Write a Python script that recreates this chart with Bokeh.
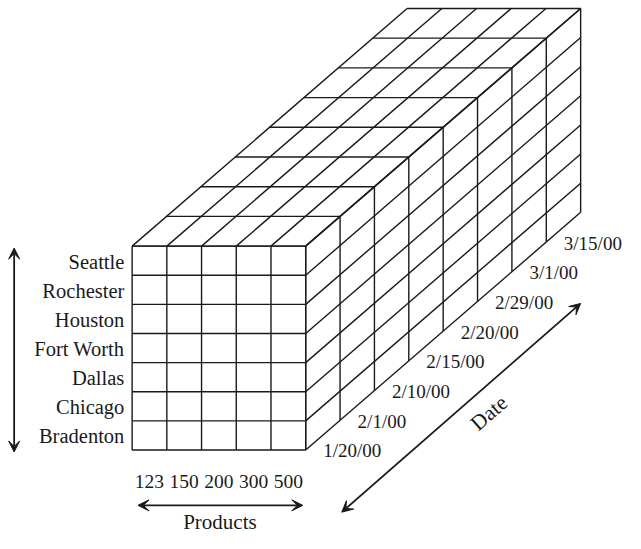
from bokeh.plotting import figure
from bokeh.models import Range1d, Arrow, VeeHead
from bokeh.core.properties import value
from bokeh.embed import file_html
from bokeh.resources import INLINE
import math

# ---- data ----
cities = ["Seattle", "Rochester", "Houston", "Fort Worth", "Dallas", "Chicago", "Bradenton"]  # top to bottom
products = ["123", "150", "200", "300", "500"]
dates = ["1/20/00", "2/1/00", "2/10/00", "2/15/00", "2/20/00", "2/29/00", "3/1/00", "3/15/00"]  # front to back
axis_names = ["Products", "Date"]

# ---- geometry (data units = reference pixels, y up) ----
X0, YB = 135.0, 86.0      # front-bottom-left corner
CW, CH = 35.6, 30.0       # cell width / height on front face
DX, DY = 35.25, 30.6      # oblique depth step
FONT = value("Liberation Serif")
LC = "#1a1a1a"
LW = 1.4

ncol, nrow, ndep = len(products), len(cities), len(dates)
W, H = ncol * CW, nrow * CH
XR, YT = X0 + W, YB + H

p = figure(width=625, height=533, output_backend="svg", toolbar_location=None,
           x_range=Range1d(0, 641), y_range=Range1d(0, 549),
           min_border=0, x_axis_location=None, y_axis_location=None,
           outline_line_color=None, background_fill_color="white",
           border_fill_color="white")
p.grid.visible = False

xs0, ys0, xs1, ys1 = [], [], [], []
def seg(a, b, c, d):
    xs0.append(a); ys0.append(b); xs1.append(c); ys1.append(d)

# front face
for j in range(nrow + 1):
    seg(X0, YB + j * CH, XR, YB + j * CH)
for i in range(ncol + 1):
    seg(X0 + i * CW, YB, X0 + i * CW, YT)
# top face
for k in range(ndep + 1):
    seg(X0 + k * DX, YT + k * DY, XR + k * DX, YT + k * DY)
for i in range(ncol + 1):
    seg(X0 + i * CW, YT, X0 + i * CW + ndep * DX, YT + ndep * DY)
# right face
for k in range(ndep + 1):
    seg(XR + k * DX, YB + k * DY, XR + k * DX, YT + k * DY)
for j in range(nrow + 1):
    seg(XR, YB + j * CH, XR + ndep * DX, YB + j * CH + ndep * DY)

p.segment(xs0, ys0, xs1, ys1, line_color=LC, line_width=LW)

# city labels
cy = [YT - (j + 0.5) * CH - 1 for j in range(nrow)]
p.text([127] * nrow, cy, text=cities, text_font=FONT, text_font_size="20.5px",
       text_align="right", text_baseline="middle", text_color=LC)

# product labels
px = [X0 + (i + 0.5) * CW for i in range(ncol)]
p.text(px, [54] * ncol, text=products, text_font=FONT, text_font_size="19.5px",
       text_align="center", text_baseline="middle", text_color=LC)

# date labels
dxs = [XR + k * DX + 18 for k in range(ndep)]
dys = [YB + k * DY - 1 for k in range(ndep)]
p.text(dxs, dys, text=dates, text_font=FONT, text_font_size="19px",
       text_align="left", text_baseline="middle", text_color=LC)

# axis names
p.text([225], [12], text=[axis_names[0]], text_font=FONT, text_font_size="21px",
       text_align="center", text_baseline="middle", text_color=LC)
ang = math.atan2(DY, DX)
p.text([501], [124], text=[axis_names[1]], angle=ang, text_font=FONT,
       text_font_size="21.5px", text_align="center", text_baseline="middle",
       text_color=LC)

# arrows
def dbl_arrow(x_a, y_a, x_b, y_b):
    p.add_layout(Arrow(x_start=x_a, y_start=y_a, x_end=x_b, y_end=y_b,
                       line_color=LC, line_width=1.8,
                       start=VeeHead(size=11, fill_color=LC, line_color=LC, line_width=1),
                       end=VeeHead(size=11, fill_color=LC, line_color=LC, line_width=1)))

dbl_arrow(14, 294, 14, 84)
dbl_arrow(141, 29, 310, 29)
dbl_arrow(350, 22, 595, 237)

open("out.html", "w").write(file_html(p, INLINE))
